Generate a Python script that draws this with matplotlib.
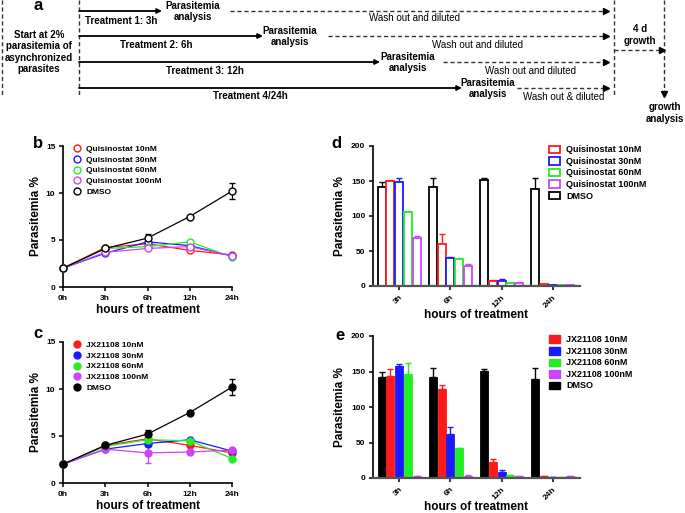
import matplotlib
matplotlib.use("Agg")
import matplotlib.pyplot as plt
import numpy as np
from matplotlib.patches import Patch
from matplotlib.lines import Line2D

plt.rcParams['font.family'] = ['Liberation Sans', 'DejaVu Sans']

# ---------------- data ----------------
times = ['0h', '3h', '6h', '12h', '24h']

# panel b (Quisinostat, parasitemia %)
q_labels = ['Quisinostat 10nM', 'Quisinostat 30nM', 'Quisinostat 60nM', 'Quisinostat 100nM', 'DMSO']
q10 = [2.0, 4.2, 4.6, 3.9, 3.4]
q30 = [2.0, 3.6, 4.8, 4.4, 3.3]
q60 = [2.0, 4.1, 4.3, 4.8, 3.2]
q100 = [2.0, 3.7, 4.1, 4.3, 3.3]
dmso_b = [2.0, 4.1, 5.2, 7.5, 10.2]
q10_err = [0, 0.1, 0.1, 0.1, 0.1]
q30_err = [0, 0.1, 0.1, 0.1, 0.1]
q60_err = [0, 0.1, 0.1, 0.1, 0.1]
q100_err = [0, 0.1, 0.1, 0.1, 0.1]
dmso_b_err = [0, 0.1, 0.4, 0.15, 0.85]

# panel c (JX21108, parasitemia %)
j_labels = ['JX21108 10nM', 'JX21108 30nM', 'JX21108 60nM', 'JX21108 100nM', 'DMSO']
j10 = [2.0, 4.0, 4.7, 4.0, 3.2]
j30 = [2.0, 3.6, 4.2, 4.6, 3.4]
j60 = [2.0, 3.9, 4.6, 4.5, 2.6]
j100 = [2.0, 3.6, 3.2, 3.3, 3.5]
dmso_c = [2.0, 4.0, 5.2, 7.5, 10.2]
j10_err = [0, 0.1, 0.1, 0.1, 0.1]
j30_err = [0, 0.1, 0.3, 0.1, 0.1]
j60_err = [0, 0.1, 0.1, 0.3, 0.1]
j100_err = [0, 0.1, 1.1, 0.1, 0.1]
dmso_c_err = [0, 0.1, 0.4, 0.15, 0.85]

# panel d / e (growth after wash out, %)
groups = ['3h', '6h', '12h', '24h']
dmso_d = [142, 142, 151, 139]
dmso_d_err = [7, 13, 3, 16]
q10_d = [150, 60, 7, 2.5]
q10_d_err = [2, 14, 1.5, 0.8]
q30_d = [148, 40, 7, 1]
q30_d_err = [7, 1.5, 3, 0.3]
q60_d = [106, 39, 4, 1.5]
q60_d_err = [0.5, 0.5, 0.3, 0.3]
q100_d = [69, 29, 4, 1]
q100_d_err = [3, 2, 0.3, 0.3]

dmso_e = [142, 142, 151, 139]
dmso_e_err = [7, 13, 3, 16]
j10_e = [144, 126, 23, 2.5]
j10_e_err = [10, 5, 4, 0.5]
j30_e = [158, 62, 9, 1.5]
j30_e_err = [3, 10, 2, 0.3]
j60_e = [147, 42, 4, 1.5]
j60_e_err = [15, 0.5, 0.5, 0.3]
j100_e = [3, 3, 3, 3]
j100_e_err = [0.5, 1.5, 0.5, 0.5]

# panel a scheme text
treat_labels = ['Treatment 1: 3h', 'Treatment 2: 6h', 'Treatment 3: 12h', 'Treatment 4/24h']
wash_labels = ['Wash out and diluted', 'Wash out and diluted', 'Wash out and diluted', 'Wash out & diluted']

# ---------------- styles ----------------
RED = '#FF1A1A'
BLUE = '#1A1AFF'
GREEN = '#22EE22'
PURPLE = '#CC44FF'
BLACK = '#000000'
colors = [RED, BLUE, GREEN, PURPLE, BLACK]

W, H = 685, 513
fig = plt.figure(figsize=(W / 100, H / 100), dpi=100)

# overlay axes in pixel coordinates for scheme + panel letters
ov = fig.add_axes([0, 0, 1, 1])
ov.set_xlim(0, W)
ov.set_ylim(H, 0)
ov.axis('off')

tfs = 7
# vertical dashed lines
for x, y1 in [(2, 97), (79, 97), (614, 97)]:
    ov.plot([x, x], [0, y1], ls=(0, (3, 2)), color='#333333', lw=1)
ov.plot([664, 664], [0, 92], ls=(0, (3, 2)), color='#333333', lw=1)
ov.plot([664], [94], marker='v', ms=4, color='k')
ov.plot([614, 660], [50, 50], ls=(0, (3, 2)), color='#333333', lw=1)
ov.plot([662], [50], marker='>', ms=4, color='k')

row_y = [11, 36, 62, 88]
arrow_end = [162, 263, 380, 462]
pa_x = [193, 290, 408, 488]
dash_start = [230, 328, 443, 517]
treat_pos = [(121, 21), (156, 45), (205, 71), (250, 96)]
wash_pos = [(415, 18), (478, 45), (531, 71), (564, 97)]
for i in range(4):
    y = row_y[i]
    ov.annotate('', xy=(arrow_end[i], y), xytext=(79, y),
                arrowprops=dict(arrowstyle='-|>', lw=1.3, color='k', mutation_scale=7,
                                shrinkA=0, shrinkB=0))
    ov.text(pa_x[i], y + 0.5, 'Parasitemia\nanalysis', ha='center', va='center',
            fontsize=tfs, fontweight='bold', linespacing=1.15)
    ov.plot([dash_start[i], 604], [y, y], ls=(0, (3, 2)), color='#333333', lw=1)
    ov.plot([606], [y], marker='>', ms=4, color='k')
    ov.text(treat_pos[i][0], treat_pos[i][1], treat_labels[i], ha='center', va='center',
            fontsize=tfs, fontweight='bold')
    ov.text(wash_pos[i][0], wash_pos[i][1], wash_labels[i], ha='center', va='center',
            fontsize=tfs)

ov.text(39, 52, 'Start at 2%\nparasitemia of\nasynchronized\nparasites', ha='center', va='center',
        fontsize=tfs, fontweight='bold', linespacing=1.2)
ov.text(640, 35, '4 d\ngrowth', ha='center', va='center', fontsize=tfs, fontweight='bold',
        linespacing=1.25)
ov.text(665, 113, 'growth\nanalysis', ha='center', va='center', fontsize=tfs, fontweight='bold',
        linespacing=1.2)

for letter, (x, y) in zip('abcde', [(38, 6), (38, 143), (38, 333), (336, 143), (340, 336)]):
    ov.text(x, y, letter, ha='center', va='center', fontsize=12, fontweight='bold')


def ax_rect(x0, x1, ytop, ybot):
    return [x0 / W, 1 - ybot / H, (x1 - x0) / W, (ybot - ytop) / H]


def style_axes(ax):
    for s in ['top', 'right']:
        ax.spines[s].set_visible(False)
    for s in ['left', 'bottom']:
        ax.spines[s].set_linewidth(1.2)
    ax.tick_params(axis='both', length=3, width=1.1, labelsize=6, pad=2.5)
    for lab in ax.get_xticklabels() + ax.get_yticklabels():
        lab.set_fontweight('bold')


def line_panel(ax, series, errs, labels, filled):
    x = np.arange(len(times))
    for vals, err, c, lab in zip(series, errs, colors, labels):
        ax.errorbar(x, vals, yerr=err, color=c, lw=0.9, marker='o', ms=5,
                    mfc=(c if filled else 'white'), mec=c, mew=1.0,
                    capsize=2.5, elinewidth=0.9, capthick=0.9, label=lab, clip_on=False, zorder=3)
    ax.set_xlim(0, 4)
    ax.set_ylim(0, 15)
    ax.set_xticks(x)
    ax.set_xticklabels(times)
    ax.set_yticks([0, 5, 10, 15])
    ax.set_ylabel('Parasitemia %', fontsize=8.5, fontweight='bold', labelpad=3)
    ax.set_xlabel('hours of treatment', fontsize=8.5, fontweight='bold', labelpad=2)
    style_axes(ax)
    handles = [Line2D([], [], color=c, marker='o', ls='none', ms=5,
                      mfc=(c if filled else 'none'), mec=c, mew=1.0) for c in colors]
    ax.legend(handles, labels, loc='upper left', bbox_to_anchor=(0.04, 1.03), frameon=False,
              prop={'size': 6, 'weight': 'bold'}, handlelength=1.0, handletextpad=0.6,
              labelspacing=0.35, borderaxespad=0)


def bar_panel(ax, series, errs, labels, filled):
    x = np.arange(len(groups))
    width = 0.155
    offsets = [-0.34, -0.17, 0.0, 0.17, 0.34]
    # order in each group: DMSO first then doses
    order = [4, 0, 1, 2, 3]
    for k, idx in enumerate(order):
        vals = series[idx]
        err = errs[idx]
        c = colors[idx]
        if filled:
            ax.bar(x + offsets[k], vals, width, color=c, edgecolor=c, lw=0.6, zorder=2)
        else:
            ax.bar(x + offsets[k], vals, width, facecolor='white', edgecolor=c, lw=1.3, zorder=2)
        ax.errorbar(x + offsets[k], vals, yerr=[np.zeros(len(err)), err], fmt='none',
                    ecolor=c, elinewidth=1.0, capsize=2.2, capthick=1.0, zorder=1)
    ax.set_xlim(-0.51, 3.53)
    ax.set_ylim(0, 200)
    ax.set_xticks(x)
    ax.set_xticklabels(groups, rotation=45, ha='right', rotation_mode='anchor')
    ax.set_yticks([0, 50, 100, 150, 200])
    ax.set_ylabel('Parasitemia %', fontsize=8.5, fontweight='bold', labelpad=4)
    ax.set_xlabel('hours of treatment', fontsize=8.5, fontweight='bold', labelpad=0)
    style_axes(ax)
    ax.spines['bottom'].set_linewidth(1.6)
    ax.spines['bottom'].set_color('#555555')
    if filled:
        handles = [Patch(facecolor=c, edgecolor=c) for c in colors]
    else:
        handles = [Patch(facecolor='white', edgecolor=c, lw=1.3) for c in colors]
    ax.legend(handles, labels, loc='upper left', bbox_to_anchor=(0.835, 1.03), frameon=False,
              prop={'size': 6.5, 'weight': 'bold'}, handlelength=1.15, handleheight=0.9,
              handletextpad=0.7, labelspacing=0.28, borderaxespad=0)


ax_b = fig.add_axes(ax_rect(63, 232, 146, 287))
line_panel(ax_b, [q10, q30, q60, q100, dmso_b],
           [q10_err, q30_err, q60_err, q100_err, dmso_b_err], q_labels, filled=False)

ax_c = fig.add_axes(ax_rect(63, 232, 342, 483))
line_panel(ax_c, [j10, j30, j60, j100, dmso_c],
           [j10_err, j30_err, j60_err, j100_err, dmso_c_err], j_labels, filled=True)

ax_d = fig.add_axes(ax_rect(373, 580, 146, 286))
bar_panel(ax_d, [q10_d, q30_d, q60_d, q100_d, dmso_d],
          [q10_d_err, q30_d_err, q60_d_err, q100_d_err, dmso_d_err], q_labels, filled=False)

ax_e = fig.add_axes(ax_rect(373, 580, 336, 478))
bar_panel(ax_e, [j10_e, j30_e, j60_e, j100_e, dmso_e],
          [j10_e_err, j30_e_err, j60_e_err, j100_e_err, dmso_e_err], j_labels, filled=True)

fig.savefig('out.png', dpi=100)
